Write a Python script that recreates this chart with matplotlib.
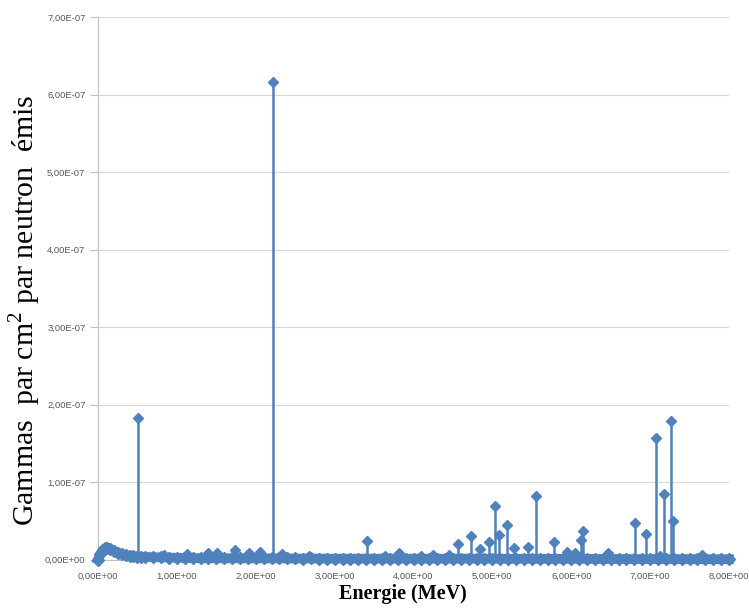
import matplotlib
matplotlib.use("Agg")
import matplotlib.pyplot as plt
from matplotlib.ticker import FuncFormatter

# continuum (MeV, gammas/cm2 per emitted neutron)
base_energy = [0.0, 0.03, 0.06, 0.09, 0.12, 0.15, 0.2, 0.25, 0.3, 0.35, 0.4, 0.45,
               0.5, 0.55, 0.6, 0.7, 0.8, 0.9, 1.0, 1.1, 1.2, 1.3, 1.4, 1.5, 1.6,
               1.7, 1.8, 1.9, 2.0, 2.1, 2.2, 2.3, 2.4, 2.5, 2.6, 2.7, 2.8, 2.9,
               3.0, 3.1, 3.2, 3.3, 3.4, 3.5, 3.6, 3.7, 3.8, 3.9, 4.0, 4.1, 4.2,
               4.3, 4.4, 4.5, 4.6, 4.7, 4.8, 4.9, 5.0, 5.1, 5.2, 5.3, 5.4, 5.5,
               5.6, 5.7, 5.8, 5.9, 6.0, 6.1, 6.2, 6.3, 6.4, 6.5, 6.6, 6.7, 6.8,
               6.9, 7.0, 7.1, 7.2, 7.3, 7.4, 7.5, 7.6, 7.7, 7.8, 7.9, 8.0]
base_value = [0.0, 0.7e-8, 1.2e-8, 1.45e-8, 1.5e-8, 1.4e-8, 1.15e-8, 0.9e-8,
              0.65e-8, 0.55e-8, 0.48e-8, 0.42e-8, 0.38e-8, 0.35e-8, 0.33e-8,
              0.3e-8, 0.28e-8, 0.25e-8, 0.22e-8, 0.2e-8, 0.18e-8, 0.17e-8,
              0.17e-8, 0.16e-8, 0.15e-8, 0.16e-8, 0.15e-8, 0.14e-8, 0.15e-8,
              0.14e-8, 0.15e-8, 0.14e-8, 0.13e-8, 0.13e-8, 0.12e-8, 0.13e-8,
              0.12e-8, 0.12e-8, 0.11e-8, 0.12e-8, 0.11e-8, 0.11e-8, 0.12e-8,
              0.11e-8, 0.1e-8, 0.11e-8, 0.1e-8, 0.1e-8, 0.11e-8, 0.1e-8,
              0.1e-8, 0.11e-8, 0.1e-8, 0.1e-8, 0.11e-8, 0.12e-8, 0.11e-8,
              0.1e-8, 0.1e-8, 0.1e-8, 0.09e-8, 0.1e-8, 0.09e-8, 0.09e-8,
              0.08e-8, 0.09e-8, 0.08e-8, 0.08e-8, 0.08e-8, 0.09e-8, 0.08e-8,
              0.07e-8, 0.07e-8, 0.07e-8, 0.06e-8, 0.07e-8, 0.06e-8, 0.06e-8,
              0.06e-8, 0.06e-8, 0.05e-8, 0.05e-8, 0.05e-8, 0.05e-8, 0.04e-8,
              0.04e-8, 0.04e-8, 0.04e-8, 0.04e-8]

# discrete lines
peak_energy = [0.511, 0.84, 1.13, 1.40, 1.51, 1.74, 1.91, 2.05, 2.223, 2.33,
               2.67, 3.41, 3.64, 3.82, 4.10, 4.25, 4.45, 4.57, 4.73, 4.84,
               4.96, 5.03, 5.08, 5.19, 5.27, 5.45, 5.55, 5.78, 5.94, 6.05,
               6.12, 6.15, 6.46, 6.81, 6.95, 7.08, 7.13, 7.18, 7.27, 7.29, 7.66]
peak_value = [1.82e-7, 0.06e-7, 0.07e-7, 0.09e-7, 0.085e-7, 0.12e-7, 0.085e-7,
              0.10e-7, 6.16e-7, 0.07e-7, 0.05e-7, 0.24e-7, 0.05e-7, 0.08e-7,
              0.05e-7, 0.06e-7, 0.06e-7, 0.20e-7, 0.30e-7, 0.14e-7, 0.22e-7,
              0.69e-7, 0.31e-7, 0.44e-7, 0.15e-7, 0.16e-7, 0.82e-7, 0.22e-7,
              0.10e-7, 0.09e-7, 0.25e-7, 0.37e-7, 0.09e-7, 0.47e-7, 0.33e-7,
              1.57e-7, 0.05e-7, 0.85e-7, 1.79e-7, 0.50e-7, 0.06e-7]

x_ticks = [0, 1, 2, 3, 4, 5, 6, 7, 8]
y_ticks = [0, 1e-7, 2e-7, 3e-7, 4e-7, 5e-7, 6e-7, 7e-7]

blue = "#4F81BD"
plt.rcParams["mathtext.fontset"] = "custom"
plt.rcParams["mathtext.rm"] = "Liberation Serif"

fig = plt.figure(figsize=(7.49, 6.08), dpi=100)
ax = fig.add_axes([98 / 749, 1 - 559.5 / 608, 631 / 749, 542.5 / 608])

# dense low-level continuum shows up as a thick band
ax.plot(base_energy, base_value, color=blue, lw=7, marker="D", ms=6,
        solid_joinstyle="round", zorder=3, clip_on=False)
ax.vlines(peak_energy, 0, peak_value, color=blue, lw=1.8, zorder=3)
ax.plot(peak_energy, peak_value, ls="none", marker="D", ms=5, color=blue,
        zorder=4, clip_on=False)

ax.set_xlim(0, 8)
ax.set_ylim(0, 7e-7)
ax.set_xticks(x_ticks)
ax.set_yticks(y_ticks)

sci = FuncFormatter(lambda v, pos: f"{v:.2E}".replace(".", ","))
ax.xaxis.set_major_formatter(sci)
ax.yaxis.set_major_formatter(sci)

for lab in ax.get_xticklabels() + ax.get_yticklabels():
    lab.set_family("Liberation Sans")
    lab.set_fontsize(6.8)
    lab.set_color("#595959")

ax.tick_params(axis="x", length=0, pad=9)
ax.tick_params(axis="y", length=6, width=0.8, color="#BFBFBF", pad=3)

ax.grid(axis="y", color="#D9D9D9", lw=0.9)
ax.set_axisbelow(True)
for s in ["top", "right"]:
    ax.spines[s].set_visible(False)
ax.spines["left"].set_color("#BFBFBF")
ax.spines["bottom"].set_color("#BFBFBF")

ax.set_xlabel("Energie (MeV)", family="Liberation Serif", fontweight="bold",
              fontsize=14.5, va="center")
ax.xaxis.set_label_coords(0.483, -0.063)
ax.set_ylabel("Gammas  par cm$^{\\mathrm{2}}$ par neutron  émis",
              family="Liberation Serif", fontsize=21.5, va="center", ha="center")
ax.yaxis.set_label_coords(-0.1157, 0.46)

fig.savefig("out.png", dpi=100)
